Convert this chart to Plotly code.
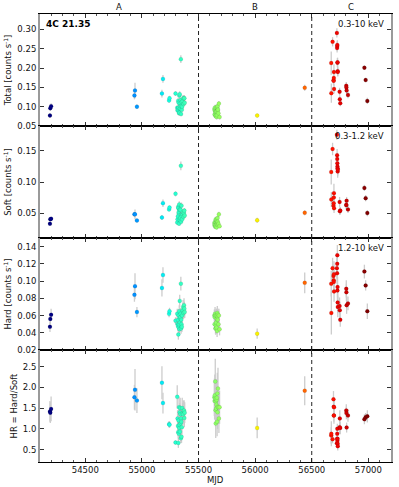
import numpy as np
import plotly.graph_objects as go
from plotly.subplots import make_subplots

# ── data ────────────────────────────────────────────────────────
mjd = [
    54188, 54191, 54198,                                    # navy
    54934, 54939, 54956,                                    # blue
    55177, 55186,                                           # cyan
    55240, 55244, 55297,                                    # aqua
    55312, 55315, 55318, 55320, 55322, 55324, 55326, 55328, 55330,
    55332, 55334, 55336, 55338, 55340, 55342, 55344, 55346, 55348,
    55350, 55353, 55356, 55360, 55364, 55368, 55372, 55375, 55378,
    55640, 55642, 55644, 55646, 55648, 55650, 55652, 55654, 55656, 55658,
    55660, 55662, 55664, 55666, 55668, 55670, 55672, 55676, 55680, 55686,
    56018,                                                  # yellow
    56438,                                                  # orange
    56672, 56673, 56684, 56692, 56694, 56695, 56696, 56697, 56722, 56724,
    56725, 56726, 56727, 56728, 56729, 56730, 56746, 56748, 56752, 56805,
    56806, 56808, 56820, 56965, 56976, 56991,
]

total = [
    0.077, 0.096, 0.101,
    0.129, 0.142, 0.100,
    0.134, 0.172,
    0.116, 0.122, 0.134,
    0.097, 0.090, 0.093, 0.115, 0.096, 0.110, 0.098, 0.083, 0.129,
    0.084, 0.132, 0.108, 0.095, 0.101, 0.117, 0.223, 0.081, 0.102,
    0.112, 0.092, 0.100, 0.114, 0.122, 0.107, 0.122, 0.122, 0.110,
    0.094, 0.080, 0.090, 0.098, 0.088, 0.076, 0.085, 0.077, 0.087, 0.098,
    0.073, 0.088, 0.078, 0.097, 0.101, 0.091, 0.092, 0.083, 0.108, 0.073,
    0.077,
    0.149,
    0.213, 0.135, 0.268, 0.168, 0.167, 0.174, 0.190, 0.146, 0.291, 0.252,
    0.257, 0.260, 0.214, 0.215, 0.192, 0.190, 0.139, 0.119, 0.109, 0.154,
    0.150, 0.142, 0.130, 0.201, 0.169, 0.115,
]
total_err = [
    0.006, 0.007, 0.008,
    0.010, 0.020, 0.006,
    0.010, 0.010,
    0.006, 0.006, 0.006,
    0.007, 0.006, 0.006, 0.008, 0.006, 0.007, 0.006, 0.006, 0.008,
    0.006, 0.008, 0.007, 0.006, 0.007, 0.007, 0.010, 0.006, 0.007,
    0.007, 0.006, 0.007, 0.008, 0.008, 0.007, 0.008, 0.008, 0.007,
    0.006, 0.006, 0.006, 0.007, 0.006, 0.006, 0.006, 0.006, 0.006, 0.007,
    0.006, 0.006, 0.006, 0.007, 0.007, 0.006, 0.006, 0.006, 0.007, 0.006,
    0.005,
    0.008,
    0.030, 0.025, 0.012, 0.012, 0.012, 0.012, 0.020, 0.012, 0.012, 0.012,
    0.012, 0.012, 0.012, 0.012, 0.012, 0.012, 0.010, 0.010, 0.008, 0.010,
    0.010, 0.010, 0.008, 0.006, 0.006, 0.008,
]

soft = [
    0.033, 0.040, 0.041,
    0.048, 0.048, 0.038,
    0.043, 0.066,
    0.056, 0.059, 0.081,
    0.035, 0.040, 0.045, 0.060, 0.058, 0.050, 0.052, 0.033, 0.064,
    0.040, 0.055, 0.056, 0.038, 0.043, 0.055, 0.126, 0.036, 0.047,
    0.062, 0.045, 0.040, 0.048, 0.052, 0.044, 0.050, 0.054, 0.046,
    0.034, 0.030, 0.032, 0.036, 0.028, 0.031, 0.040, 0.029, 0.035, 0.038,
    0.027, 0.032, 0.036, 0.034, 0.042, 0.036, 0.031, 0.033, 0.048, 0.029,
    0.0385,
    0.0505,
    0.116, 0.072, 0.153, 0.062, 0.066, 0.075, 0.082, 0.058, 0.176, 0.143,
    0.137, 0.130, 0.125, 0.122, 0.117, 0.120, 0.068, 0.053, 0.054, 0.063,
    0.063, 0.070, 0.056, 0.0905, 0.074, 0.050,
]
soft_err = [
    0.003, 0.003, 0.003,
    0.004, 0.008, 0.003,
    0.004, 0.006,
    0.003, 0.003, 0.004,
    0.004, 0.004, 0.004, 0.005, 0.004, 0.004, 0.004, 0.003, 0.005,
    0.004, 0.004, 0.004, 0.004, 0.004, 0.004, 0.007, 0.004, 0.004,
    0.005, 0.004, 0.004, 0.004, 0.004, 0.004, 0.004, 0.004, 0.004,
    0.003, 0.003, 0.003, 0.003, 0.003, 0.003, 0.004, 0.003, 0.003, 0.003,
    0.003, 0.003, 0.003, 0.003, 0.004, 0.003, 0.003, 0.003, 0.004, 0.003,
    0.004,
    0.004,
    0.020, 0.012, 0.010, 0.008, 0.008, 0.008, 0.015, 0.008, 0.008, 0.010,
    0.010, 0.010, 0.010, 0.010, 0.010, 0.010, 0.008, 0.006, 0.006, 0.006,
    0.006, 0.006, 0.006, 0.005, 0.005, 0.005,
]

hard = [
    0.047, 0.056, 0.061,
    0.084, 0.094, 0.064,
    0.092, 0.107,
    0.062, 0.065, 0.054,
    0.062, 0.050, 0.048, 0.055, 0.038, 0.060, 0.046, 0.050, 0.065,
    0.044, 0.077, 0.052, 0.057, 0.058, 0.062, 0.097, 0.045, 0.055,
    0.050, 0.047, 0.060, 0.066, 0.070, 0.063, 0.072, 0.068, 0.064,
    0.060, 0.050, 0.058, 0.062, 0.060, 0.045, 0.045, 0.048, 0.052, 0.060,
    0.046, 0.056, 0.042, 0.063, 0.059, 0.055, 0.061, 0.050, 0.060, 0.044,
    0.039,
    0.098,
    0.097, 0.063, 0.115, 0.106, 0.101, 0.099, 0.108, 0.088, 0.115, 0.109,
    0.120, 0.130, 0.089, 0.093, 0.075, 0.070, 0.071, 0.066, 0.055, 0.091,
    0.087, 0.072, 0.074, 0.111, 0.095, 0.065,
]
hard_err = [
    0.006, 0.006, 0.007,
    0.008, 0.015, 0.006,
    0.010, 0.009,
    0.004, 0.004, 0.004,
    0.006, 0.006, 0.006, 0.007, 0.006, 0.007, 0.006, 0.006, 0.007,
    0.006, 0.007, 0.006, 0.006, 0.007, 0.007, 0.008, 0.006, 0.007,
    0.006, 0.006, 0.007, 0.008, 0.008, 0.007, 0.008, 0.008, 0.007,
    0.007, 0.007, 0.007, 0.008, 0.007, 0.007, 0.007, 0.007, 0.007, 0.008,
    0.007, 0.007, 0.007, 0.008, 0.008, 0.007, 0.007, 0.007, 0.008, 0.007,
    0.006,
    0.012,
    0.015, 0.025, 0.012, 0.012, 0.012, 0.012, 0.015, 0.012, 0.012, 0.012,
    0.012, 0.012, 0.012, 0.012, 0.012, 0.012, 0.010, 0.010, 0.008, 0.010,
    0.010, 0.010, 0.008, 0.008, 0.006, 0.009,
]

hr = [
    1.42, 1.39, 1.48,
    1.76, 1.94, 1.68,
    2.11, 1.62,
    1.11, 1.10, 0.67,
    1.77, 1.25, 1.07, 0.92, 0.66, 1.20, 0.88, 1.52, 1.02,
    1.10, 1.40, 0.93, 1.50, 1.35, 1.13, 0.77, 1.25, 1.17,
    0.81, 1.04, 1.50, 1.38, 1.35, 1.43, 1.44, 1.26, 1.39,
    1.76, 1.67, 1.81, 1.72, 2.14, 1.45, 1.13, 1.66, 1.49, 1.58,
    1.70, 1.75, 1.17, 1.85, 1.40, 1.53, 1.97, 1.52, 1.25, 1.52,
    1.02,
    1.92,
    0.84, 0.88, 0.75, 1.71, 1.53, 1.32, 1.32, 1.52, 0.65, 0.76,
    0.88, 1.00, 0.71, 0.76, 0.64, 0.58, 1.04, 1.25, 1.02, 1.44,
    1.38, 1.03, 1.32, 1.23, 1.28, 1.30,
]
hr_err = [
    0.25, 0.25, 0.30,
    0.30, 0.50, 0.30,
    0.40, 0.25,
    0.08, 0.08, 0.05,
    0.28, 0.20, 0.18, 0.15, 0.12, 0.20, 0.15, 0.25, 0.15,
    0.18, 0.22, 0.15, 0.25, 0.22, 0.18, 0.12, 0.22, 0.20,
    0.15, 0.18, 0.25, 0.25, 0.25, 0.25, 0.25, 0.22, 0.25,
    0.45, 0.45, 0.50, 0.45, 0.55, 0.40, 0.35, 0.45, 0.40, 0.45,
    0.45, 0.45, 0.35, 0.50, 0.40, 0.40, 0.50, 0.40, 0.35, 0.40,
    0.25,
    0.35,
    0.20, 0.30, 0.10, 0.20, 0.20, 0.15, 0.20, 0.20, 0.08, 0.10,
    0.10, 0.12, 0.10, 0.10, 0.10, 0.10, 0.15, 0.20, 0.15, 0.15,
    0.15, 0.12, 0.15, 0.12, 0.10, 0.15,
]

PANELS = [
    (total, total_err, "Total [counts s<sup>-1</sup>]", [0.05, 0.34], 0.05, ".2f", "0.3-10 keV"),
    (soft, soft_err, "Soft [counts s<sup>-1</sup>]", [0.01, 0.19], 0.05, ".2f", "0.3-1.2 keV"),
    (hard, hard_err, "Hard [counts s<sup>-1</sup>]", [0.02, 0.15], 0.02, ".2f", "1.2-10 keV"),
    (hr, hr_err, "HR = Hard/Soft", [0.2, 2.9], 0.5, ".1f", None),
]
PERIODS = ["A", "B", "C"]
PERIOD_MID = [54800, 56000, 56850]
BOUNDS = [55500, 56500]


def _jet_scale():
    """matplotlib 'jet' as a plotly colorscale."""
    red = ([0, 0.35, 0.66, 0.89, 1], [0, 0, 1, 1, 0.5])
    grn = ([0, 0.125, 0.375, 0.64, 0.91, 1], [0, 0, 1, 1, 0, 0])
    blu = ([0, 0.11, 0.34, 0.65, 1], [0.5, 1, 1, 0, 0])
    stops = [0, 0.11, 0.125, 0.34, 0.35, 0.375, 0.5, 0.64, 0.65, 0.66, 0.89, 0.91, 1]
    out = []
    for s in stops:
        r, g, b = (np.interp(s, *c) for c in (red, grn, blu))
        out.append([s, f"rgb({int(r*255)},{int(g*255)},{int(b*255)})"])
    return out


JET = _jet_scale()
FONT = "DejaVu Sans"
TXT = dict(size=8.5, family=FONT, color="#111")

fig = make_subplots(rows=4, cols=1, shared_xaxes=True, vertical_spacing=0)

for i, (vals, errs, title, yr, dt, fmt, band) in enumerate(PANELS, start=1):
    sfx = "" if i == 1 else str(i)
    fig.add_trace(go.Scatter(
        x=mjd, y=vals, mode="markers",
        error_y=dict(type="data", array=errs, color="#cccccc", thickness=1.3, width=0),
        marker=dict(size=4, color=mjd, colorscale=JET, cmin=min(mjd), cmax=max(mjd),
                    line=dict(width=0.3, color="rgba(0,0,0,0.3)")),
        showlegend=False, hoverinfo="skip",
    ), row=i, col=1)

    fig.update_yaxes(
        range=yr, dtick=dt, tick0=0, tickformat=fmt,
        title=dict(text=title, font=TXT, standoff=4),
        showline=True, linecolor="#9a9a9a", linewidth=2, mirror="ticks",
        ticks="inside", ticklen=4, tickcolor="#333",
        showgrid=False, zeroline=False, tickfont=TXT,
        row=i, col=1,
    )
    fig.update_xaxes(
        range=[54100, 57200], dtick=500, tick0=0, tickformat="d",
        showline=True, linecolor="black", linewidth=1.2, mirror="ticks",
        ticks="inside", ticklen=4, tickcolor="#333",
        minor=dict(ticks="inside", ticklen=2, dtick=100, tickcolor="#555"),
        showgrid=False, zeroline=False, tickfont=TXT,
        row=i, col=1,
    )
    if band:
        fig.add_annotation(
            text=band, xref=f"x{sfx} domain", yref=f"y{sfx} domain",
            x=0.985, y=0.97, xanchor="right", yanchor="top", showarrow=False,
            font=TXT,
        )
    for b in BOUNDS:
        fig.add_shape(type="line", x0=b, x1=b, y0=0, y1=1,
                      xref=f"x{sfx}", yref=f"y{sfx} domain",
                      line=dict(color="#222", width=1, dash="4px,3px"))

fig.add_annotation(
    text="MJD", xref="x4 domain", yref="y4 domain", x=0.5, y=0,
    yanchor="top", yshift=-11, showarrow=False, font=TXT,
)
fig.add_annotation(
    text="<b>4C 21.35</b>", xref="x domain", yref="y domain",
    x=0.01, y=0.97, xanchor="left", yanchor="top", showarrow=False,
    font=dict(size=9, family=FONT, color="black"),
)
for lab, xm in zip(PERIODS, PERIOD_MID):
    fig.add_annotation(
        text=lab, x=xm, xref="x", y=1, yref="y domain", yanchor="bottom",
        yshift=0, showarrow=False, font=TXT,
    )

fig.update_layout(
    width=399, height=487,
    margin=dict(l=40, r=6, t=14, b=25),
    plot_bgcolor="white", paper_bgcolor="white",
    font=dict(family=FONT, size=8.5, color="#111"),
)

# the page's default body margin would push the figure off by 8px
fig.write_html("out.html", config={"displayModeBar": False},
               post_script="document.body.style.margin='0';")
